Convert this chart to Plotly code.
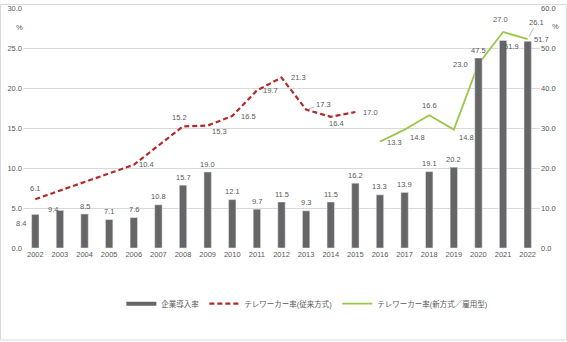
import plotly.graph_objects as go

# Survey years
years = [str(y) for y in range(2002, 2023)]

# Company adoption rate (%), right axis
adoption = [8.4, 9.4, 8.5, 7.1, 7.6, 10.8, 15.7, 19.0, 12.1, 9.7, 11.5,
            9.3, 11.5, 16.2, 13.3, 13.9, 19.1, 20.2, 47.5, 51.9, 51.7]

# Teleworker rate, old method (%), left axis; no survey in some years
old_rate = [6.1, None, None, None, 10.4, None, 15.2, 15.3, 16.5, 19.7, 21.3,
            17.3, 16.4, 17.0, None, None, None, None, None, None, None]

# Teleworker rate, new method / employed type (%), left axis
new_rate = [None] * 14 + [13.3, 14.8, 16.6, 14.8, 23.0, 27.0, 26.1]

left_ticks = [0, 5, 10, 15, 20, 25, 30]
right_ticks = [0, 10, 20, 30, 40, 50, 60]

names = ["企業導入率", "テレワーカー率(従来方式)", "テレワーカー率(新方式／雇用型)"]

BAR = "#666666"
RED = "#B22A2A"
GREEN = "#9CC64A"
TXT = "#595959"
FONT = "Liberation Sans, Noto Sans CJK JP"
FS = 7.5
DASH = "5px,3px"

fig = go.Figure()

fig.add_trace(go.Bar(x=years, y=adoption, marker_color=BAR, yaxis="y2",
                     showlegend=False, hoverinfo="x+y"))
fig.add_trace(go.Scatter(x=years, y=old_rate, mode="lines", connectgaps=True,
                         line=dict(color=RED, width=2.2, dash=DASH),
                         showlegend=False))
fig.add_trace(go.Scatter(x=years, y=new_rate, mode="lines",
                         line=dict(color=GREEN, width=1.8), showlegend=False))

# legend entries drawn as line samples
fig.add_trace(go.Scatter(x=[None], y=[None], mode="lines", name=names[0],
                         line=dict(color=BAR, width=4)))
fig.add_trace(go.Scatter(x=[None], y=[None], mode="lines", name=names[1],
                         line=dict(color=RED, width=2.2, dash=DASH)))
fig.add_trace(go.Scatter(x=[None], y=[None], mode="lines", name=names[2],
                         line=dict(color=GREEN, width=1.8)))

# label offsets (px) per point
bar_off = {0: (-14, -9), 1: (-7, 1), 19: (8, -6), 20: (14, 2)}
old_off = {0: (0, 11), 4: (13, 0), 6: (-4, 9), 7: (12, -6), 8: (16, 0),
           9: (14, 0), 10: (17, 0), 11: (17, 5), 12: (6, -7), 13: (15, 0)}
new_off = {14: (15, -1), 15: (13, -8), 16: (0, 10), 17: (13, -8),
           18: (-18, 0), 19: (-3, 13), 20: (9, 17)}
# labels pulled away from their point get a thin leader line
leaders = {("old", 11), ("new", 20)}


def label(i, v, yref, off, key):
    dx, dy = off
    base = dict(x=i, y=v, yref=yref, text=f"{v:.1f}",
                font=dict(size=FS, color=TXT, family=FONT))
    if key in leaders:
        base.update(showarrow=True, ax=dx, ay=-dy, arrowhead=0,
                    arrowwidth=0.8, arrowcolor="#A6A6A6", standoff=3)
    else:
        base.update(showarrow=False, xshift=dx, yshift=dy)
    return base


# annotations on a category axis are placed by category index
ann = []
for i, v in enumerate(adoption):
    ann.append(label(i, v, "y2", bar_off.get(i, (0, 8)), ("bar", i)))
for i, v in enumerate(old_rate):
    if v is not None:
        ann.append(label(i, v, "y", old_off[i], ("old", i)))
for i, v in enumerate(new_rate):
    if v is not None:
        ann.append(label(i, v, "y", new_off[i], ("new", i)))

# unit marks
ann.append(dict(x=-0.017, y=0.945, xref="paper", yref="paper", text="%",
                showarrow=False, font=dict(size=FS, color=TXT, family=FONT)))
ann.append(dict(x=1.04, y=0.95, xref="paper", yref="paper", text="%",
                showarrow=False, font=dict(size=FS, color=TXT, family=FONT)))

fig.update_layout(
    width=567, height=342,
    margin=dict(l=23, r=27, t=4, b=94),
    paper_bgcolor="white", plot_bgcolor="white",
    font=dict(family=FONT, size=FS, color=TXT),
    bargap=0.7,
    xaxis=dict(type="category", range=[-0.5, len(years) - 0.5], showgrid=False,
               showline=False, ticks="", tickfont=dict(size=FS, color=TXT)),
    yaxis=dict(range=[0, 30], tickvals=left_ticks, tickformat=".1f",
               showgrid=True, gridcolor="#D9D9D9", gridwidth=1, zeroline=False,
               ticks="", ticklabeloverflow="allow",
               tickfont=dict(size=FS, color=TXT)),
    yaxis2=dict(range=[0, 60], tickvals=right_ticks, tickformat=".1f",
                overlaying="y", side="right", showgrid=False, zeroline=False,
                ticks="", ticklabeloverflow="allow",
                tickfont=dict(size=FS, color=TXT)),
    legend=dict(orientation="h", x=0.55, xanchor="center", y=-0.232,
                yanchor="middle", font=dict(size=FS, color=TXT, family=FONT),
                itemwidth=30, tracegroupgap=0),
    annotations=ann,
    shapes=[dict(type="rect", xref="paper", yref="paper",
                 x0=-22.5 / 517, x1=543.5 / 517, y0=-93.5 / 244, y1=247.5 / 244,
                 line=dict(color="#D9D9D9", width=1), layer="below")],
    showlegend=True,
)

fig.write_html("out.html")
